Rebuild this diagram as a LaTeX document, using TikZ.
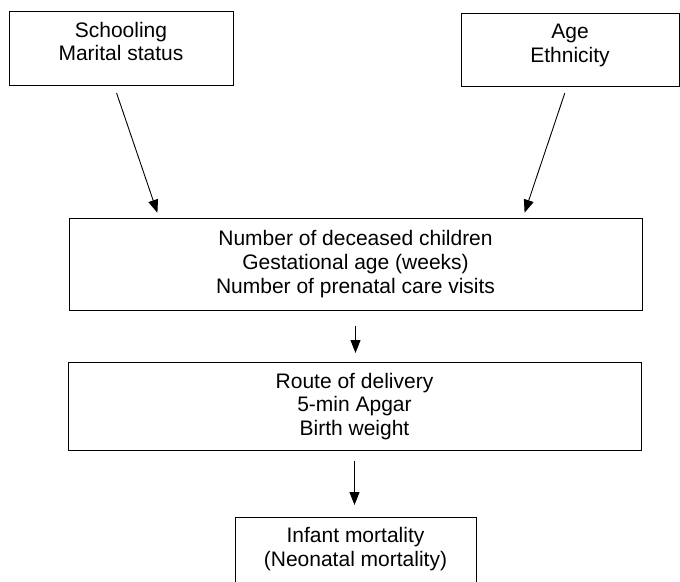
\documentclass[tikz,border=0pt]{standalone}
\usepackage{fontspec}
\setmainfont{Liberation Sans}
\usetikzlibrary{arrows.meta}

\begin{document}
\begin{tikzpicture}[x=1pt, y=-1pt, main/.style = {draw, line width=1pt, align=center, inner sep=0pt, font=\fontsize{21}{23.7}\selectfont}, >={Triangle[length=13pt, width=10pt]}]
            \useasboundingbox (0,0) rectangle (680,581);
            \clip (0,0) rectangle (680,581);
            \node[main, minimum width=224, minimum height=74, text depth=13pt] (1) at (121,48)      {Schooling\\Marital status};
            \node[main, minimum width=218, minimum height=73, text depth=13pt] (2) at (570,49.5)    {Age\\Ethnicity};
            \node[main, minimum width=573, minimum height=92] (3) at (355.5,264)   {Number of deceased children\\Gestational age (weeks)\\Number of prenatal care visits};
            \node[main, minimum width=573, minimum height=88] (4) at (354.5,406.5) {Route of delivery\\5-min Apgar\\Birth weight};
            \node[main, minimum width=241, anchor=north, inner ysep=10pt, text depth=60pt] (5) at (355.5,517) {Infant mortality\\(Neonatal mortality)};

            \draw[->, line width=0.9pt, shorten <=8pt, shorten >=5pt] ([xshift=-7pt]1.south) to ([xshift=-196.5pt]3.north);
            \draw[->, line width=0.9pt, shorten <=7pt, shorten >=5pt] ([xshift=-3pt]2.south) to ([xshift=167.5pt]3.north);
            \draw[->, line width=0.9pt, shorten <=15pt, shorten >=9pt] (3.south) to (3.south |- 4.north);
            \draw[->, line width=0.9pt, shorten <=10pt, shorten >=12pt] (4.south) to (4.south |- 5.north);
        \end{tikzpicture}
\end{document}
